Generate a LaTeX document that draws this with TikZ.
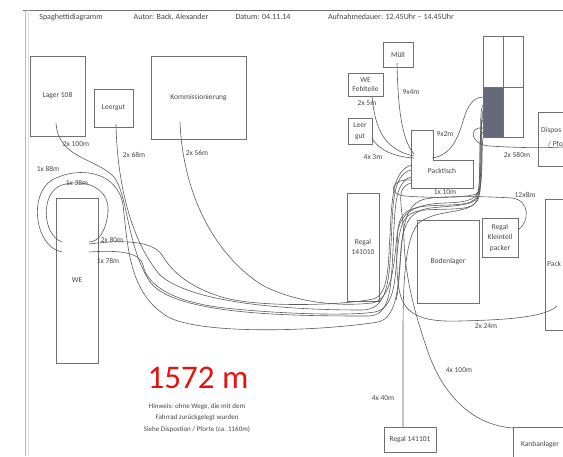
\documentclass[tikz,border=0pt]{standalone}
\usepackage{fontspec}
\setmainfont{Carlito}
\usetikzlibrary{positioning}
\definecolor{rahmen}{RGB}{112,112,112}
\definecolor{linie}{RGB}{92,92,92}
\definecolor{schrift}{RGB}{70,70,70}
\definecolor{lagerblau}{RGB}{100,106,122}
\definecolor{summenrot}{RGB}{232,16,16}
\newcommand\labfont{\fontsize{7.5}{9}\selectfont}
\newcommand\boxfont{\fontsize{7.5}{11.5}\selectfont}
\tikzset{
  raum/.style={draw=rahmen, line width=.7pt, align=center, font=\boxfont, text=schrift, inner sep=1pt},
  weg/.style={draw=linie, line width=.6pt},
  wegtext/.style={font=\labfont, text=schrift, inner sep=0pt},
  randtext/.style={font=\boxfont, text=schrift, anchor=west, inner sep=0pt},
  kopf/.style={font=\fontsize{8}{10}\selectfont, text=schrift, inner sep=0pt},
}
\begin{document}
\begin{tikzpicture}[x=1pt,y=-1pt]
    \useasboundingbox (0,0) rectangle (563,456);
    \clip (0,0) rectangle (563,456);
    % Blattrand
    \draw[rahmen, line width=.6pt](23,10)--(563,10);
    \draw[gray!55, line width=.6pt](25,10)--(25,456);
    \draw[gray!25, line width=.8pt](28,10)--(28,456);
    % Kopfzeile
    \node[kopf](hdtitel)at(71,17){Spaghettidiagramm};
    \node[kopf](hdautor)at(171,17){Autor: Back, Alexander};
    \node[kopf](hddatum)at(263,17){Datum: 04.11.14};
    \node[kopf](hddauer)at(391,17){Aufnahmedauer: 12.45Uhr -- 14.45Uhr};

    % Flaechen
    \node[raum, minimum width=55, minimum height=80](lager)at(57.5,96){Lager 108};
    \node[raum, minimum width=39, minimum height=38](leergut)at(113.5,108){Leergut};
    \node[raum, minimum width=95, minimum height=83](komm)at(198.5,97.5){Kommissionierung};
    \node[raum, minimum width=30, minimum height=25](muell)at(398,54.5){Müll};
    \node[raum, minimum width=35, minimum height=23](wefehl)at(365.5,84.5){WE\\[-2pt]Fehlteile};
    \node[raum, minimum width=24, minimum height=26](leergutB)at(360,131){Leer\\gut};
    \node[raum, minimum width=50, minimum height=54](dispo)at(563,139){};
    \node[randtext](dispotextA)at(541,131){Dispos};
    \node[randtext](dispotextB)at(548,144){/ Pfo};
    \node[raum, minimum width=32, minimum height=108](regalA)at(363,247){Regal\\[-2pt]141010};
    \node[raum, minimum width=62, minimum height=83](boden)at(448,261.5){Bodenlager};
    \node[raum, minimum width=36, minimum height=39](kleinteil)at(500,237.5){Regal\\[-1pt]Kleinteil\\[-1pt]packer};
    \node[raum, minimum width=50, minimum height=131](pack)at(570,264.5){};
    \node[randtext](packtext)at(547,264){Pack};
    \node[raum, minimum width=52, minimum height=25](regalB)at(410,439.5){Regal 141101};
    \node[raum, minimum width=54, minimum height=36](kanban)at(540,445){Kanbanlager};
    \node[raum, minimum width=42, minimum height=165](we)at(77,280.5){WE};
    % Packtisch (L-Form)
    \draw[rahmen, line width=.7pt](411,130)--(433,130)--(433,160)--(473,160)--(473,188)--(411,188)--cycle;
    \node[font=\boxfont, text=schrift](packtisch)at(442,171){Packtisch};
    % Regal oben rechts
    \fill[lagerblau](483,87)rectangle(503,137);
    \draw[rahmen, line width=.7pt](483,36)rectangle(523,137);
    \draw[rahmen, line width=.7pt](503,36)--(503,137);
    \draw[rahmen, line width=.7pt](483,87)--(523,87);

    % Wege links
    \draw[weg](56,123) .. controls (58,158) and (95,158) .. (113,176) .. controls (128,192) and (126,245) .. (150,282) .. controls (175,315) and (290,316) .. (368,316) .. controls (390,316) and (391,290) .. (393,250) .. controls (395,210) and (394,182) .. (411,177);
    \draw[weg](116,124) .. controls (117,180) and (130,240) .. (160,275) .. controls (190,302) and (280,310) .. (362,310) .. controls (388,310) and (389,280) .. (391,245) .. controls (393,205) and (392,175) .. (411,170);
    \draw[weg](180,122) .. controls (183,195) and (215,255) .. (262,285) .. controls (300,305) and (345,306) .. (372,303) .. controls (392,300) and (394,265) .. (397,235) .. controls (400,212) and (415,204) .. (445,203) .. controls (470,202) and (480,200) .. (481,180) .. controls (482,150) and (480,120) .. (483,115);
    \draw[weg](62,252) .. controls (35,247) and (28,195) .. (52,180) .. controls (80,165) and (118,172) .. (123,205) .. controls (128,245) and (128,295) .. (170,318) .. controls (210,336) and (330,330) .. (378,322) .. controls (396,318) and (398,290) .. (400,262) .. controls (402,232) and (404,212) .. (430,208) .. controls (460,205) and (478,206) .. (480,192) .. controls (483,165) and (478,110) .. (483,105);
    \draw[weg](62,242) .. controls (42,235) and (40,192) .. (62,185) .. controls (85,178) and (110,188) .. (108,212) .. controls (106,232) and (98,242) .. (89,242);
    \draw[weg](89,244) .. controls (120,240) and (152,240) .. (162,255) .. controls (172,272) and (190,288) .. (225,298) .. controls (265,308) and (345,305) .. (373,299) .. controls (389,295) and (388,265) .. (390,235) .. controls (392,195) and (393,172) .. (411,165);
    \draw[weg](89,252) .. controls (118,250) and (140,252) .. (143,265) .. controls (147,285) and (172,302) .. (225,308) .. controls (280,314) and (350,316) .. (375,312) .. controls (394,308) and (395,282) .. (397,255) .. controls (400,222) and (403,212) .. (425,210) .. controls (455,208) and (476,212) .. (479,196) .. controls (482,175) and (480,125) .. (483,110);
    % Wege oben
    \draw[weg](397,63) .. controls (398,110) and (402,140) .. (414,154);
    \draw[weg](372,96) .. controls (375,130) and (385,150) .. (414,156);
    \draw[weg](372,138) .. controls (378,150) and (395,157) .. (414,158);
    \draw[weg](432,158) .. controls (455,155) and (460,130) .. (465,115) .. controls (470,100) and (478,97) .. (483,97);
    \draw[weg](483,128) .. controls (468,126) and (470,145) .. (490,146) .. controls (520,148) and (545,148) .. (563,147);
    % Wege rechts und unten
    \draw[weg](403,427) -- (403,335) .. controls (403,290) and (404,235) .. (420,222) .. controls (440,208) and (470,215) .. (477,200) .. controls (482,185) and (478,125) .. (483,120);
    \draw[weg](513,428) .. controls (470,425) and (442,392) .. (428,352) .. controls (414,312) and (405,275) .. (404,240) .. controls (403,205) and (394,188) .. (411,183);
    \draw[weg](557,306) .. controls (545,318) and (500,320) .. (460,321) .. controls (430,322) and (410,318) .. (402,300) .. controls (396,285) and (396,255) .. (398,230) .. controls (400,205) and (420,206) .. (450,205) .. controls (475,204) and (478,200) .. (479,185) .. controls (481,160) and (478,135) .. (483,132);
    \draw[weg](518,230) .. controls (530,222) and (530,200) .. (512,198) .. controls (480,196) and (440,196) .. (425,199) .. controls (410,203) and (405,215) .. (402,240) .. controls (400,262) and (399,290) .. (396,300);
    \draw[weg](411,180) .. controls (392,178) and (386,194) .. (405,196) .. controls (430,198) and (465,198) .. (476,194) .. controls (484,190) and (481,150) .. (483,138);

    % Weglaengen
    \node[wegtext](w100)at(76,144){2x 100m};
    \node[wegtext](w68)at(134,155){2x 68m};
    \node[wegtext](w56)at(197,153){2x 56m};
    \node[wegtext](w88)at(48,169){1x 88m};
    \node[wegtext](w38)at(77,183){1x 38m};
    \node[wegtext](w80)at(112,240){2x 80m};
    \node[wegtext](w78)at(108,261){1x 78m};
    \node[wegtext](w5)at(367,103){2x 5m};
    \node[wegtext](w4)at(411,92){9x4m};
    \node[wegtext](w3)at(373,157){4x 3m};
    \node[wegtext](w2)at(445,134){9x2m};
    \node[wegtext](w580)at(517,155){2x 580m};
    \node[wegtext](w10)at(445,192){1x 10m};
    \node[wegtext](w8)at(525,195){12x8m};
    \node[wegtext](w24)at(486,326){2x 24m};
    \node[wegtext](w40)at(383,398){4x 40m};
    \node[wegtext](w100b)at(459,370){4x 100m};

    % Summe
    \node[text=summenrot, font=\fontsize{33}{36}\selectfont](summe)at(198,378){1572 m};
    \node[font=\fontsize{7}{11.5}\selectfont, text=schrift, align=center](hinweis)at(197,418){Hinweis: ohne Wege, die mit dem\\Fahrrad zurückgelegt wurden\\Siehe Dispostion / Pforte (ca. 1160m)};
\end{tikzpicture}
\end{document}
